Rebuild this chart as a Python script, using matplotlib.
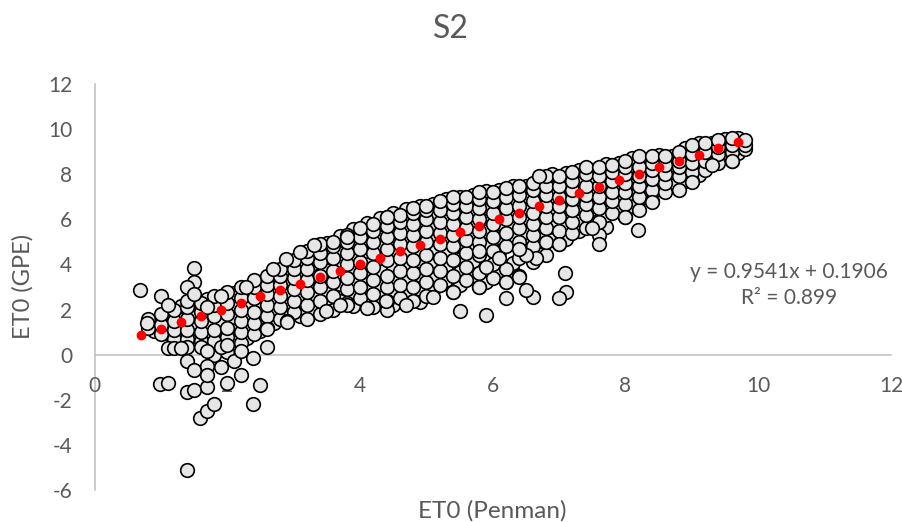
import matplotlib
matplotlib.use("Agg")
import matplotlib.pyplot as plt

title = "S2"
x_label = "ET0 (Penman)"
y_label = "ET0 (GPE)"
x_ticks = [0, 2, 4, 6, 8, 10, 12]
y_ticks = [-6, -4, -2, 0, 2, 4, 6, 8, 10, 12]
equation = "y = 0.9541x + 0.1906"
r_squared = "R² = 0.899"

# Measured points, one list of y values per x column
column_x = [0.8, 1.0, 1.2, 1.4, 1.6, 1.8, 2.0, 2.2, 2.4, 2.6, 2.8, 3.0, 3.2, 3.4, 3.6, 3.8,
            4.0, 4.2, 4.4, 4.6, 4.8, 5.0, 5.2, 5.4, 5.6, 5.8, 6.0, 6.2, 6.4, 6.6, 6.8, 7.0,
            7.2, 7.4, 7.6, 7.8, 8.0, 8.2, 8.4, 8.6, 8.8, 9.0, 9.2, 9.4, 9.6, 9.8]
column_y = [
    [1.2, 1.6], [0.9, 1.3, 1.8], [0.7, 1.1, 1.5, 2.0], [0.7, 1.1, 1.6, 2.1, 2.4], [0.6, 1.0, 1.5, 1.9, 2.3],
    [0.0, 0.6, 1.1, 1.7, 2.2, 2.6], [0.1, 0.8, 1.2, 1.8, 2.3, 2.8], [0.5, 1.0, 1.5, 2.0, 2.5, 3.0],
    [0.9, 1.4, 1.9, 2.5, 3.0, 3.3], [1.2, 1.7, 2.2, 2.7, 3.1, 3.5], [1.6, 2.1, 2.6, 3.1, 3.5, 3.8],
    [1.9, 2.4, 2.9, 3.4, 3.8, 4.2], [1.6, 2.2, 2.8, 3.3, 3.8, 4.3, 4.6], [1.8, 2.4, 3.0, 3.5, 4.1, 4.5, 4.9],
    [2.0, 2.6, 3.2, 3.7, 4.3, 4.8, 5.0], [2.3, 2.9, 3.4, 4.0, 4.5, 5.0, 5.3], [2.5, 3.0, 3.6, 4.1, 4.7, 5.2, 5.6],
    [2.1, 2.7, 3.3, 3.9, 4.5, 5.0, 5.5, 5.8], [2.4, 3.0, 3.5, 4.2, 4.7, 5.2, 5.7, 6.1],
    [2.5, 3.1, 3.7, 4.3, 4.9, 5.4, 5.9, 6.2], [2.4, 3.0, 3.6, 4.2, 4.8, 5.3, 5.8, 6.3, 6.5],
    [2.6, 3.2, 3.8, 4.4, 5.0, 5.5, 6.0, 6.4, 6.6], [3.1, 3.7, 4.3, 4.9, 5.4, 5.9, 6.4, 6.8],
    [2.8, 3.5, 4.2, 4.8, 5.3, 5.8, 6.3, 6.7, 7.0], [3.3, 3.9, 4.5, 5.1, 5.6, 6.1, 6.6, 7.0],
    [3.0, 3.6, 4.4, 5.0, 5.5, 6.0, 6.5, 6.9, 7.2], [3.4, 4.0, 4.6, 5.2, 5.8, 6.3, 6.8, 7.2],
    [3.2, 3.8, 4.8, 5.4, 6.0, 6.5, 7.0, 7.4], [3.5, 4.3, 5.0, 5.6, 6.1, 6.6, 7.1, 7.5],
    [4.1, 4.8, 5.3, 5.8, 6.3, 6.8, 7.3, 7.6], [4.4, 5.0, 5.6, 6.1, 6.6, 7.1, 7.5, 7.9],
    [4.9, 5.5, 6.1, 6.6, 7.0, 7.5, 7.9], [5.4, 5.9, 6.4, 6.9, 7.3, 7.7, 8.1],
    [5.6, 6.2, 6.7, 7.1, 7.5, 8.0, 8.3], [5.3, 5.9, 6.5, 7.0, 7.5, 7.9, 8.3], [6.3, 6.8, 7.2, 7.7, 8.1, 8.4],
    [6.1, 6.7, 7.2, 7.6, 8.0, 8.3, 8.6], [6.4, 7.0, 7.5, 7.9, 8.3, 8.8], [6.8, 7.3, 7.8, 8.2, 8.5, 8.8],
    [7.2, 7.6, 8.0, 8.4, 8.8], [7.3, 7.9, 8.3, 8.6, 9.0], [7.7, 8.1, 8.5, 8.9, 9.3], [8.2, 8.6, 9.0, 9.4],
    [8.5, 8.9, 9.2, 9.5], [8.6, 9.0, 9.3, 9.6], [9.1, 9.3, 9.5],
]

# Second set of columns between the first ones
between_x = [0.9, 1.1, 1.3, 1.5, 1.7, 1.9, 2.1, 2.3, 2.5, 2.7, 2.9, 3.1, 3.3, 3.5, 3.7, 3.9,
             4.1, 4.3, 4.5, 4.7, 4.9, 5.1, 5.3, 5.5, 5.7, 5.9, 6.1, 6.3, 6.5, 6.7, 6.9, 7.1,
             7.3, 7.5, 7.7, 7.9, 8.1, 8.3, 8.5, 8.7, 8.9, 9.1, 9.3, 9.5, 9.7]
between_y = [
    [1.05, 1.45], [0.95, 1.55, 1.9], [0.85, 1.25, 1.75, 2.15], [0.55, 1.3, 1.8, 2.25],
    [0.35, 0.85, 1.35, 2.05, 2.45], [0.65, 1.0, 1.45, 1.95, 2.5], [0.25, 0.75, 1.35, 1.65, 2.15, 2.75],
    [0.75, 1.25, 1.75, 2.3, 2.85], [1.05, 1.6, 2.15, 2.75, 3.2], [1.4, 1.95, 2.45, 2.9, 3.4, 3.7],
    [1.75, 2.25, 2.8, 3.3, 3.7, 4.05], [1.7, 2.05, 2.65, 3.15, 3.6, 4.05, 4.45],
    [1.95, 2.55, 3.1, 3.55, 4.05, 4.5, 4.75], [2.15, 2.75, 3.3, 3.9, 4.35, 4.65, 4.95],
    [2.4, 3.15, 3.65, 4.2, 4.7, 5.1, 5.25], [2.15, 2.75, 3.35, 3.85, 4.4, 4.9, 5.4, 5.55],
    [2.3, 2.9, 3.45, 4.05, 4.6, 5.1, 5.6, 5.85], [2.55, 3.15, 3.75, 4.3, 4.85, 5.35, 5.8, 6.05],
    [2.2, 2.8, 3.35, 3.95, 4.55, 5.1, 5.6, 6.05, 6.3], [2.65, 3.25, 3.9, 4.5, 5.05, 5.55, 6.05, 6.45],
    [2.35, 2.9, 3.55, 4.15, 4.7, 5.2, 5.7, 6.2, 6.6], [2.85, 3.45, 4.05, 4.65, 5.2, 5.75, 6.2, 6.7],
    [3.3, 3.95, 4.55, 5.1, 5.6, 6.1, 6.55, 6.9], [3.1, 3.65, 4.25, 4.85, 5.35, 5.85, 6.35, 6.8, 7.0],
    [3.5, 4.15, 4.75, 5.25, 5.75, 6.25, 6.75, 7.1], [3.2, 3.75, 4.9, 5.5, 6.05, 6.55, 7.0, 7.25],
    [3.55, 4.55, 5.2, 5.85, 6.35, 6.85, 7.3], [3.65, 4.05, 5.15, 5.7, 6.2, 6.7, 7.2, 7.5],
    [4.55, 5.1, 5.45, 6.05, 6.55, 7.05, 7.5], [4.45, 5.2, 5.8, 6.35, 6.85, 7.3, 7.7],
    [5.1, 5.7, 6.25, 6.8, 7.25, 7.7, 8.0], [5.15, 5.65, 6.2, 6.7, 7.15, 7.55, 8.05],
    [5.5, 6.0, 6.5, 6.95, 7.35, 7.8, 8.2], [5.8, 6.45, 6.9, 7.3, 7.75, 8.2],
    [5.65, 6.2, 6.95, 7.45, 7.85, 8.25, 8.45], [6.4, 6.95, 7.4, 7.8, 8.15, 8.5],
    [6.6, 7.15, 7.65, 8.1, 8.4, 8.7], [7.0, 7.55, 8.0, 8.35, 8.65], [7.35, 7.8, 8.2, 8.6, 8.85],
    [7.55, 8.1, 8.45, 8.8], [7.7, 8.0, 8.4, 8.75, 9.15], [7.95, 8.4, 8.8, 9.2, 9.4],
    [8.75, 9.1, 9.4], [8.8, 9.15, 9.45, 9.55], [8.95, 9.2, 9.4, 9.6],
]

# Individually readable outliers and envelope points
outlier_x = [0.69, 1.4, 1.59, 1.7, 1.8, 2.39, 2.49, 0.98, 1.1, 1.4, 1.5, 1.7, 2.0, 2.2, 2.6, 2.39,
             1.5, 1.5, 1.4, 1.5, 1.0, 1.1, 1.4, 1.5, 1.7, 1.7, 1.9, 2.1, 1.4, 1.1, 1.2, 1.3, 1.6,
             1.7, 1.9, 2.0, 2.2, 2.6, 2.9, 3.49, 3.8, 4.4, 8.19, 7.6, 7.09, 7.1, 7.0, 6.6, 6.2,
             5.9, 5.5, 5.1, 4.7, 4.39, 6.5, 5.4, 5.8, 6.4, 6.2, 5.9, 6.1, 5.8, 6.65, 6.5, 7.0,
             6.4, 7.5, 8.0, 8.4, 9.0, 9.6, 9.3, 6.7, 3.09, 3.3, 2.89, 2.69, 2.29, 1.9, 1.69, 3.8,
             4.4, 2.9, 3.7, 4.1, 0.79]
outlier_y = [2.86, -5.1, -2.8, -2.5, -2.2, -2.18, -1.35, -1.3, -1.27, -1.65, -1.55, -1.43, -1.25, -0.9, 0.35, -0.15,
             3.85, 3.2, 3.0, 2.7, 2.6, 2.2, -0.3, -0.7, -0.5, -0.9, -0.55, -0.3, 0.35, 0.3, 0.3, 0.3, 0.35,
             0.15, 0.35, 0.45, 0.15, 1.15, 1.5, 1.93, 2.2, 2.0, 5.52, 4.89, 3.6, 2.8, 2.5, 2.56, 2.5,
             1.75, 1.95, 2.55, 2.2, 2.37, 2.85, 2.8, 3.0, 3.45, 3.2, 3.9, 4.3, 4.6, 4.3, 4.4, 4.9,
             4.7, 5.6, 6.1, 6.78, 7.66, 8.6, 8.4, 7.93, 4.56, 4.87, 4.23, 3.8, 3.0, 2.6, 2.1, 5.2,
             6.1, 1.45, 2.2, 2.05, 1.41]

# Fitted points
fit_x = [0.7, 1.0, 1.3, 1.6, 1.9, 2.2, 2.5, 2.8, 3.1, 3.4, 3.7, 4.0, 4.3, 4.6, 4.9, 5.2,
         5.5, 5.8, 6.1, 6.4, 6.7, 7.0, 7.3, 7.6, 7.9, 8.2, 8.5, 8.8, 9.1, 9.4, 9.7]
fit_y = [0.86, 1.14, 1.43, 1.72, 2.0, 2.29, 2.58, 2.86, 3.15, 3.43, 3.72, 4.01, 4.29, 4.58, 4.87, 5.15,
         5.44, 5.72, 6.01, 6.3, 6.58, 6.87, 7.16, 7.44, 7.73, 8.01, 8.3, 8.59, 8.87, 9.16, 9.45]

plt.rcParams["font.family"] = ["Lato", "Open Sans", "DejaVu Sans"]
plt.rcParams["axes.unicode_minus"] = False
GRAY = "#595959"
AXIS = "#BFBFBF"
W, H = 903, 522

fig = plt.figure(figsize=(W / 100, H / 100), dpi=100, facecolor="white")
ax = fig.add_axes([94.5 / W, 1 - 490 / H, (891 - 94.5) / W, (490 - 84) / H])
ax.set_xlim(0, 12)
ax.set_ylim(-6, 12)
ax.spines["top"].set_visible(False)
ax.spines["right"].set_visible(False)
ax.spines["bottom"].set_position(("data", 0))
for s in ("left", "bottom"):
    ax.spines[s].set_color(AXIS)
    ax.spines[s].set_linewidth(1.1)
    ax.spines[s].set_zorder(0.5)

xs = [x for x, col in zip(between_x, between_y) for _ in col]
xs += [x for x, col in zip(column_x, column_y) for _ in col] + outlier_x
ys = [y for col in between_y for y in col]
ys += [y for col in column_y for y in col] + outlier_y
ax.scatter(xs, ys, s=96, facecolor="#E7E6E6", edgecolor="black", linewidth=1.2, zorder=2, clip_on=False)
ax.scatter(fit_x, fit_y, s=50, color="#FF0000", linewidth=0, zorder=3)

ax.set_xticks(x_ticks)
ax.set_yticks(y_ticks)
ax.tick_params(length=0, labelcolor=GRAY, labelsize=15)
ax.tick_params(axis="x", pad=15)
ax.tick_params(axis="y", pad=16)

fig.text(451 / W, 1 - 29 / H, title, ha="center", va="center", fontsize=23, color=GRAY)
fig.text(492.5 / W, 1 - 511 / H, x_label, ha="center", va="center", fontsize=17.5, color=GRAY)
fig.text(23 / W, 1 - 286.5 / H, y_label, ha="center", va="center", rotation=90, fontsize=17, color=GRAY)
fig.text(789 / W, 1 - 272 / H, equation, ha="center", va="center", fontsize=15, color=GRAY)
fig.text(789 / W, 1 - 298 / H, r_squared, ha="center", va="center", fontsize=15, color=GRAY)

fig.savefig("out.png", dpi=100)
